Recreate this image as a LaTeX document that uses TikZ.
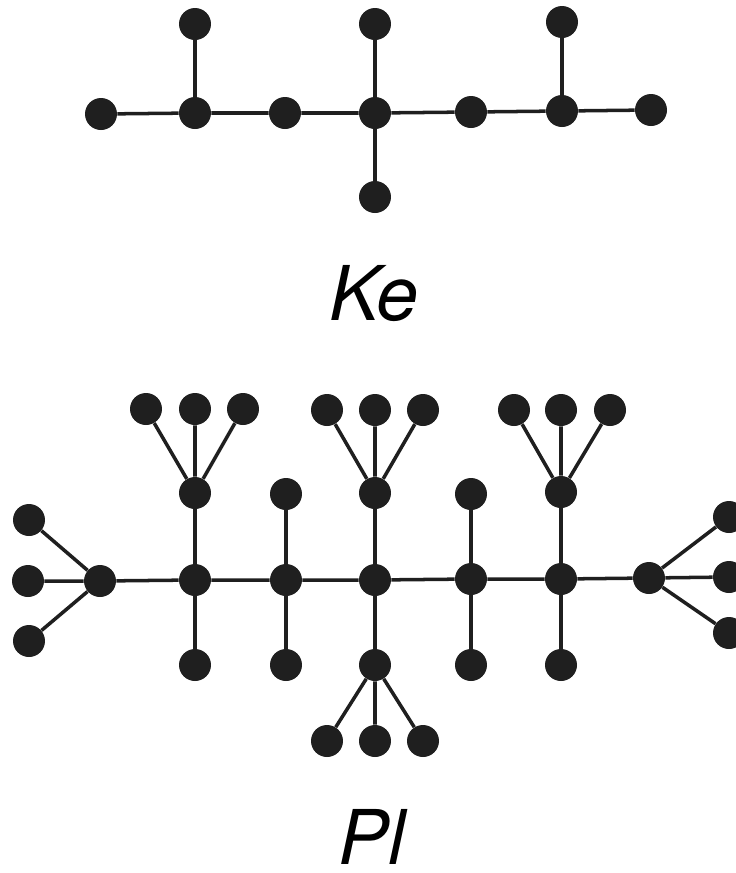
\documentclass[tikz,border=0pt]{standalone}
\usepackage{fontspec}
\setmainfont{TeX Gyre Heros}
\usetikzlibrary{positioning}

\begin{document}
\begin{tikzpicture}[x=0.02cm,y=-0.02cm,
    dot/.style={circle,fill=black!88,inner sep=0pt,minimum size=0.64cm},
    edge/.style={line width=2pt,black!88},
    bold edge/.style={line width=2.8pt,black!88},
    graphname/.style={anchor=base,font=\fontsize{43}{50}\selectfont\itshape}]
    \useasboundingbox (0,0) rectangle (735,873);

    % Ke
    \node[dot] (k1) at (101,114) {};
    \node[dot] (k2) at (195,113) {};
    \node[dot] (k3) at (285,113) {};
    \node[dot] (k4) at (375,113) {};
    \node[dot] (k5) at (471,112) {};
    \node[dot] (k6) at (562,111) {};
    \node[dot] (k7) at (651,110) {};
    \node[dot] (k2u) at (195,24) {};
    \node[dot] (k4u) at (375,24) {};
    \node[dot] (k6u) at (562,22) {};
    \node[dot] (k4d) at (375,197) {};
    \draw[edge] (k1) -- (k2) -- (k3) -- (k4) -- (k5) -- (k6) -- (k7);
    \draw[edge] (k2) -- (k2u);
    \draw[edge] (k4u) -- (k4) -- (k4d);
    \draw[edge] (k6) -- (k6u);
    \node[graphname] (ke) at (374,320) {Ke};

    % Pl
    \node[dot] (p1) at (100,581) {};
    \node[dot] (p2) at (195,580) {};
    \node[dot] (p3) at (286,580) {};
    \node[dot] (p4) at (375,580) {};
    \node[dot] (p5) at (471,579) {};
    \node[dot] (p6) at (561,579) {};
    \node[dot] (p7) at (649,578) {};
    \node[dot] (p1a) at (29,520) {};
    \node[dot] (p1b) at (28,581) {};
    \node[dot] (p1c) at (29,641) {};
    \node[dot] (p7a) at (729,517) {};
    \node[dot] (p7b) at (729,577) {};
    \node[dot] (p7c) at (729,633) {};
    \node[dot] (p2u) at (195,493) {};
    \node[dot] (p3u) at (286,494) {};
    \node[dot] (p4u) at (375,493) {};
    \node[dot] (p5u) at (471,494) {};
    \node[dot] (p6u) at (561,492) {};
    \node[dot] (p2d) at (195,665) {};
    \node[dot] (p3d) at (286,665) {};
    \node[dot] (p4d) at (375,665) {};
    \node[dot] (p5d) at (471,665) {};
    \node[dot] (p6d) at (561,665) {};
    \node[dot] (p2ua) at (146,409) {};
    \node[dot] (p2ub) at (195,409) {};
    \node[dot] (p2uc) at (243,409) {};
    \node[dot] (p4ua) at (327,410) {};
    \node[dot] (p4ub) at (375,410) {};
    \node[dot] (p4uc) at (423,410) {};
    \node[dot] (p6ua) at (514,410) {};
    \node[dot] (p6ub) at (561,410) {};
    \node[dot] (p6uc) at (610,410) {};
    \node[dot] (p4da) at (327,741) {};
    \node[dot] (p4db) at (375,741) {};
    \node[dot] (p4dc) at (423,741) {};
    \draw[edge] (p1) -- (p2) -- (p3) -- (p4) -- (p5) -- (p6) -- (p7);
    \draw[edge] (p1a) -- (p1) (p1b) -- (p1) (p1c) -- (p1);
    \draw[edge] (p7a) -- (p7) (p7b) -- (p7) (p7c) -- (p7);
    \draw[edge] (p2u) -- (p2) -- (p2d);
    \draw[bold edge] (p3u) -- (p3) -- (p3d);
    \draw[edge] (p4u) -- (p4) -- (p4d);
    \draw[bold edge] (p5u) -- (p5) -- (p5d);
    \draw[edge] (p6u) -- (p6) -- (p6d);
    \draw[edge] (p2ua) -- (p2u) (p2ub) -- (p2u) (p2uc) -- (p2u);
    \draw[edge] (p4ua) -- (p4u) (p4ub) -- (p4u) (p4uc) -- (p4u);
    \draw[edge] (p6ua) -- (p6u) (p6ub) -- (p6u) (p6uc) -- (p6u);
    \draw[edge] (p4da) -- (p4d) (p4db) -- (p4d) (p4dc) -- (p4d);
    \node[graphname] (pl) at (372,864) {Pl};
\end{tikzpicture}
\end{document}
